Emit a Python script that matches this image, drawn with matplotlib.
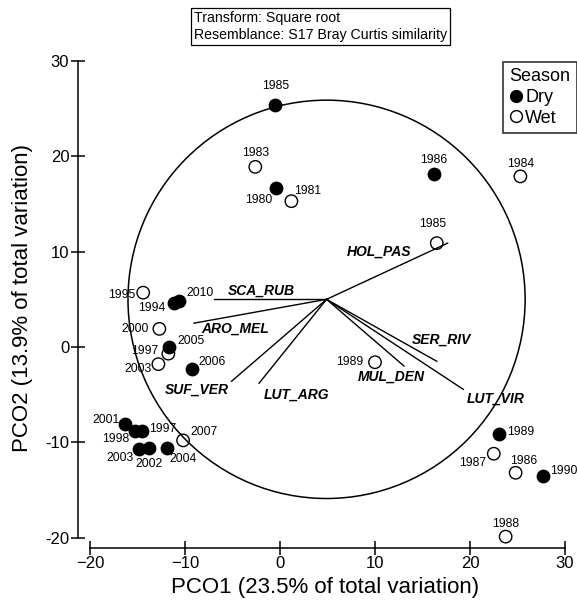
import numpy as np
import matplotlib
matplotlib.use('Agg')
import matplotlib.pyplot as plt
from matplotlib.patches import Ellipse
from matplotlib.lines import Line2D

plt.rcParams['font.family'] = ['Liberation Sans', 'DejaVu Sans']

# Sample scores (PCO1, PCO2), label year and season
years = ['1985', '1983', '1980', '1981', '1986', '1984', '1985', '1989',
         '1989', '1987', '1986', '1990', '1988',
         '1995', '2010', '1994', '2000', '2005', '1997', '2003', '2006',
         '2001', '1998', '1997', '2003', '2002', '2004', '2007']
pco1 = [-0.5, -2.6, -0.45, 1.2, 16.2, 25.3, 16.5, 10.0,
        23.1, 22.5, 24.8, 27.7, 23.75,
        -14.4, -10.6, -11.2, -12.7, -11.65, -11.75, -12.8, -9.3,
        -16.3, -15.3, -14.5, -14.8, -13.8, -11.9, -10.2]
pco2 = [25.4, 18.9, 16.65, 15.3, 18.2, 17.9, 10.9, -1.6,
        -9.1, -11.2, -13.2, -13.5, -19.9,
        5.7, 4.8, 4.6, 1.9, 0.0, -0.7, -1.8, -2.3,
        -8.1, -8.8, -8.8, -10.7, -10.6, -10.6, -9.8]
season = ['Dry', 'Wet', 'Dry', 'Wet', 'Dry', 'Wet', 'Wet', 'Wet',
          'Dry', 'Wet', 'Wet', 'Dry', 'Wet',
          'Wet', 'Dry', 'Dry', 'Wet', 'Dry', 'Wet', 'Wet', 'Dry',
          'Dry', 'Dry', 'Dry', 'Dry', 'Dry', 'Dry', 'Wet']

# label placement: offset in pixels and horizontal alignment
lab_dx = [0, 0, -17, 16, 0, 0, -4, -12,
          8, -8, 8, 7, 0,
          -8, 7, -8, -11, 8, -10, -7, 7,
          -5, -5, 7, -6, 0, 3, 7]
lab_dy = [19, 14, -12, 10, 14, 12, 19, 0,
          2, -9, 12, 5, 13,
          -2, 8, -5, 0, 6, 3, -5, 7,
          4, -8, 2, -9, -16, -11, 8]
lab_ha = ['center', 'center', 'center', 'center', 'center', 'center', 'center', 'right',
          'left', 'right', 'center', 'left', 'center',
          'right', 'left', 'right', 'right', 'left', 'right', 'right', 'left',
          'right', 'right', 'left', 'right', 'center', 'left', 'left']

# Vector overlay (species)
species = ['SCA_RUB', 'ARO_MEL', 'SUF_VER', 'LUT_ARG', 'HOL_PAS', 'SER_RIV', 'MUL_DEN', 'LUT_VIR']
vec_x = [-6.9, -9.05, -5.1, -2.2, 17.65, 16.5, 13.05, 19.3]
vec_y = [5.0, 2.5, -3.6, -3.8, 10.9, -1.5, -2.0, -4.45]
origin = (4.9, 5.0)
radius = 20.9
sp_lab_x = [-2.0, -4.7, -8.8, 1.7, 10.4, 17.0, 11.7, 22.7]
sp_lab_y = [5.9, 1.9, -4.5, -5.0, 10.0, 0.8, -3.1, -5.4]

xticks = [-20, -10, 0, 10, 20, 30]
yticks = [-20, -10, 0, 10, 20, 30]

fig = plt.figure(figsize=(5.77, 6.04), dpi=100)
ax = fig.add_axes([0, 0, 1, 1])
ax.patch.set_visible(False)
ax.set_xlim(-29.47, 31.26)
ax.set_ylim(-26.97, 36.41)

for s in ['top', 'right']:
    ax.spines[s].set_visible(False)
ax.spines['left'].set_position(('data', -21.3))
ax.spines['left'].set_bounds(-20, 30)
ax.spines['bottom'].set_position(('data', -21.1))
ax.spines['bottom'].set_bounds(-20, 30)
for s in ['left', 'bottom']:
    ax.spines[s].set_linewidth(1.1)

ax.set_xticks(xticks)
ax.set_xticklabels([str(t).replace('-', '\u2212') for t in xticks])
ax.set_yticks(yticks)
ax.set_yticklabels([str(t) for t in yticks])
ax.tick_params(direction='inout', length=10, width=1.1, labelsize=12, pad=1)

# correlation circle and vectors
ax.add_patch(Ellipse(origin, 2 * radius, 2 * radius, fill=False, ec='black', lw=1.1))
for vx, vy in zip(vec_x, vec_y):
    ax.plot([origin[0], vx], [origin[1], vy], color='black', lw=1.0)
for name, lx, ly in zip(species, sp_lab_x, sp_lab_y):
    ax.text(lx, ly, name, fontsize=10, fontweight='bold', fontstyle='italic',
            ha='center', va='center')

# points
pco1 = np.array(pco1)
pco2 = np.array(pco2)
is_dry = np.array([s == 'Dry' for s in season])
ax.scatter(pco1[~is_dry], pco2[~is_dry], s=80, facecolor='none', edgecolor='black',
           linewidth=1.0, zorder=3)
ax.scatter(pco1[is_dry], pco2[is_dry], s=80, facecolor='black', edgecolor='black',
           linewidth=1.0, zorder=4)
for yr, x, y, dx, dy, ha in zip(years, pco1, pco2, lab_dx, lab_dy, lab_ha):
    ax.annotate(yr, (x, y), xytext=(dx, dy), textcoords='offset pixels',
                fontsize=8.7, ha=ha, va='center', zorder=5)

# axis titles
fig.text(325 / 577, 1 - 587 / 604, 'PCO1 (23.5% of total variation)', fontsize=16,
         ha='center', va='center')
fig.text(23 / 577, 1 - 298 / 604, 'PCO2 (13.9% of total variation)', fontsize=16,
         ha='center', va='center', rotation=90)

# info box
fig.text(194 / 577, 1 - 11 / 604, 'Transform: Square root\nResemblance: S17 Bray Curtis similarity',
         fontsize=10.2, ha='left', va='top', linespacing=1.3,
         bbox=dict(boxstyle='square,pad=0.2', fc='white', ec='black', lw=0.9))

# legend
handles = [Line2D([], [], marker='o', ls='none', mfc='black', mec='black', ms=8.5),
           Line2D([], [], marker='o', ls='none', mfc='none', mec='black', ms=8.5)]
leg = ax.legend(handles, ['Dry', 'Wet'], title='Season', loc='upper right',
                bbox_to_anchor=(1.0, 1 - 62 / 604), bbox_transform=fig.transFigure,
                fontsize=13, title_fontsize=13, frameon=True, fancybox=False,
                borderpad=0.35, handlelength=0.7, handletextpad=0.15, labelspacing=0.2,
                borderaxespad=0, alignment='left')
leg.get_frame().set_edgecolor('black')
leg.get_frame().set_linewidth(1.2)

fig.savefig('out.png', dpi=100)
